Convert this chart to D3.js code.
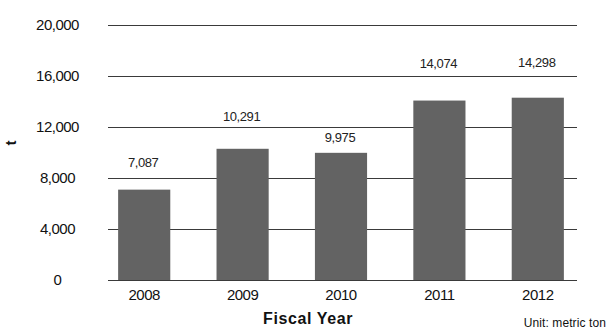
<!DOCTYPE html>
<html>
<head>
<meta charset="utf-8">
<script src="https://cdn.jsdelivr.net/npm/d3@7"></script>
<style>
  html, body { margin: 0; padding: 0; background: #fff; }
  svg { display: block; font-family: "Liberation Sans", Arial, Helvetica, sans-serif; }
</style>
</head>
<body>
<svg id="chart" width="610" height="332"></svg>
<script>
// Annual amount by fiscal year (metric tons)
const years = ["2008", "2009", "2010", "2011", "2012"];
const amounts = [7087, 10291, 9975, 14074, 14298];
const yTicks = [0, 4000, 8000, 12000, 16000, 20000];

// Vertical nudge of each value label above its bar top (px)
const labelNudge = [-27, -32, -16, -37, -35];

const svg = d3.select("#chart");
const fmt = d3.format(",");

const gridLeft = 108, gridRight = 577;

const x = d3.scaleBand()
  .domain(years)
  .range([95, 587])
  .paddingInner(0.47)
  .paddingOuter(0.235);

const y = d3.scaleLinear()
  .domain([0, 20000])
  .range([280, 25]);

// horizontal gridlines
svg.append("g").selectAll("line")
  .data(yTicks)
  .join("line")
  .attr("x1", gridLeft)
  .attr("x2", gridRight)
  .attr("y1", d => Math.round(y(d)) + 0.5)
  .attr("y2", d => Math.round(y(d)) + 0.5)
  .attr("stroke", "#3a3a3a")
  .attr("stroke-width", 1.2);

// y tick labels
svg.append("g").selectAll("text")
  .data(yTicks)
  .join("text")
  .attr("x", 57.5)
  .attr("y", d => y(d) + 5)
  .attr("text-anchor", "middle")
  .attr("font-size", 15)
  .attr("letter-spacing", -0.5)
  .attr("fill", "#111")
  .text(d => fmt(d));

// bars
svg.append("g").selectAll("rect")
  .data(amounts)
  .join("rect")
  .attr("x", (d, i) => x(years[i]))
  .attr("width", x.bandwidth())
  .attr("y", d => y(d))
  .attr("height", d => y(0) - y(d))
  .attr("fill", "#636363");

// value labels
svg.append("g").selectAll("text")
  .data(amounts)
  .join("text")
  .attr("x", (d, i) => x(years[i]) + x.bandwidth() / 2 - 1)
  .attr("y", (d, i) => y(d) + labelNudge[i] + 4.7)
  .attr("text-anchor", "middle")
  .attr("font-size", 13)
  .attr("letter-spacing", -0.4)
  .attr("fill", "#222")
  .text(d => fmt(d));

// x category labels
svg.append("g").selectAll("text")
  .data(years)
  .join("text")
  .attr("x", d => x(d) + x.bandwidth() / 2)
  .attr("y", 299.5)
  .attr("text-anchor", "middle")
  .attr("font-size", 15)
  .attr("letter-spacing", -0.5)
  .attr("fill", "#111")
  .text(d => d);

// axis titles
svg.append("text")
  .attr("x", 308)
  .attr("y", 324)
  .attr("text-anchor", "middle")
  .attr("font-size", 16)
  .attr("font-weight", "bold")
  .attr("letter-spacing", 0.6)
  .attr("fill", "#111")
  .text("Fiscal Year");

svg.append("text")
  .attr("transform", "translate(16,143) rotate(-90)")
  .attr("text-anchor", "middle")
  .attr("font-size", 15)
  .attr("font-weight", "bold")
  .attr("fill", "#111")
  .text("t");

svg.append("text")
  .attr("x", 606)
  .attr("y", 327)
  .attr("text-anchor", "end")
  .attr("font-size", 12)
  .attr("letter-spacing", 0.1)
  .attr("fill", "#111")
  .text("Unit: metric ton");
</script>
</body>
</html>
